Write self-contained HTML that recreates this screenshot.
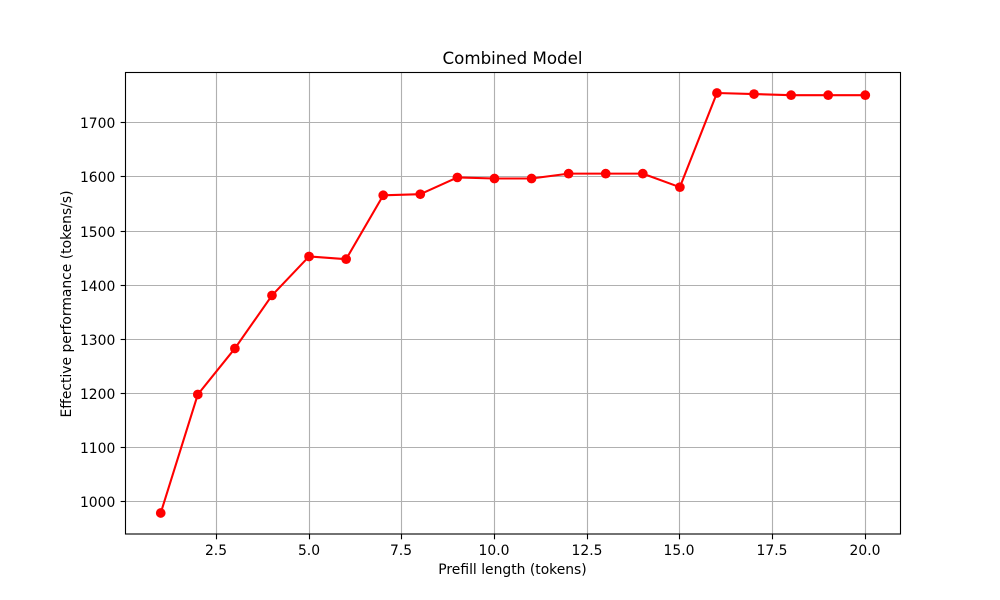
<!DOCTYPE html>
<html lang="en">
<head>
<meta charset="utf-8">
<title>Combined Model</title>
<style>
  html, body { margin: 0; padding: 0; background: #fff; }
  svg { display: block; }
  text { font-family: "DejaVu Sans", sans-serif; fill: #000; }
</style>
</head>
<body>
<svg id="chart" width="1000" height="600" viewBox="0 0 1000 600" xmlns="http://www.w3.org/2000/svg">
  <rect x="0" y="0" width="1000" height="600" fill="#ffffff"/>
  <g id="grid"></g>
  <g id="ticks"></g>
  <g id="series"></g>
  <rect x="125.5" y="72.5" width="775" height="461.5" fill="none" stroke="#000" stroke-width="1.11"/>
  <text x="512.5" y="64" text-anchor="middle" font-size="16.67">Combined Model</text>
  <text x="512.5" y="574" text-anchor="middle" font-size="13.89">Prefill length (tokens)</text>
  <text transform="translate(71 304) rotate(-90)" text-anchor="middle" font-size="13.89">Effective performance (tokens/s)</text>
</svg>
<script>
const prefillLengths = [1, 2, 3, 4, 5, 6, 7, 8, 9, 10, 11, 12, 13, 14, 15, 16, 17, 18, 19, 20];
const performance = [979, 1198, 1283, 1381, 1453, 1448, 1566, 1568, 1599, 1597, 1597, 1606, 1606, 1606, 1581, 1755, 1753, 1751, 1751, 1751];
const xTickValues = [2.5, 5, 7.5, 10, 12.5, 15, 17.5, 20];
const xTickLabels = ['2.5', '5.0', '7.5', '10.0', '12.5', '15.0', '17.5', '20.0'];
const yTickValues = [1000, 1100, 1200, 1300, 1400, 1500, 1600, 1700];
const yTickLabels = ['1000', '1100', '1200', '1300', '1400', '1500', '1600', '1700'];

const NS = 'http://www.w3.org/2000/svg';
const plotLeft = 125.5, plotRight = 900.5, plotTop = 72, plotBottom = 534;

const xMinData = Math.min(...prefillLengths);
const xMaxData = Math.max(...prefillLengths);
const yMinData = Math.min(...performance);
const yMaxData = Math.max(...performance);
const xPad = (xMaxData - xMinData) * 0.05;
const yPad = (yMaxData - yMinData) * 0.05;

function xScale(v) {
  return plotLeft + (v - (xMinData - xPad)) / ((xMaxData + xPad) - (xMinData - xPad)) * (plotRight - plotLeft);
}
function yScale(v) {
  return plotBottom - (v - (yMinData - yPad)) / ((yMaxData + yPad) - (yMinData - yPad)) * (plotBottom - plotTop);
}
function make(tag, attrs) {
  const el = document.createElementNS(NS, tag);
  for (const k in attrs) el.setAttribute(k, attrs[k]);
  return el;
}

const gridGroup = document.getElementById('grid');
const tickGroup = document.getElementById('ticks');
const seriesGroup = document.getElementById('series');

xTickValues.forEach(function (v, i) {
  const x = Math.round(xScale(v) - 0.5) + 0.5;
  const gridLine = make('line', { x1: x, x2: x, y1: plotTop, y2: plotBottom, stroke: '#b0b0b0', 'stroke-width': 1.11 });
  
  
  gridGroup.appendChild(gridLine);
  const tick = make('line', { x1: x, x2: x, y1: plotBottom, y2: plotBottom + 5.3, stroke: '#000', 'stroke-width': 1.11 });
  
  
  tickGroup.appendChild(tick);
  const label = make('text', { x: x - 0.5, y: 555, 'text-anchor': 'middle', 'font-size': 13.89 });
  
  
  label.textContent = xTickLabels[i];
  tickGroup.appendChild(label);
});

yTickValues.forEach(function (v, i) {
  const y = Math.round(yScale(v) - 0.5) + 0.5;
  const gridLine = make('line', { x1: plotLeft, x2: plotRight, y1: y, y2: y, stroke: '#b0b0b0', 'stroke-width': 1.11 });
  
  
  gridGroup.appendChild(gridLine);
  const tick = make('line', { x1: plotLeft - 4.86, x2: plotLeft, y1: y, y2: y, stroke: '#000', 'stroke-width': 1.11 });
  
  
  tickGroup.appendChild(tick);
  const label = make('text', { x: 115.3, y: y + 5.5, 'text-anchor': 'end', 'font-size': 13.89 });
  
  
  label.textContent = yTickLabels[i];
  tickGroup.appendChild(label);
});

const linePoints = prefillLengths.map(function (v, i) {
  return xScale(v) + ',' + yScale(performance[i]);
}).join(' ');
const seriesLine = make('polyline', { points: linePoints, fill: 'none', stroke: '#ff0000', 'stroke-width': 2.08, 'stroke-linejoin': 'round' });


seriesGroup.appendChild(seriesLine);

prefillLengths.forEach(function (v, i) {
  const point = make('circle', { cx: xScale(v), cy: yScale(performance[i]), r: 4.86, fill: '#ff0000' });
  
  
  seriesGroup.appendChild(point);
});
</script>
</body>
</html>
